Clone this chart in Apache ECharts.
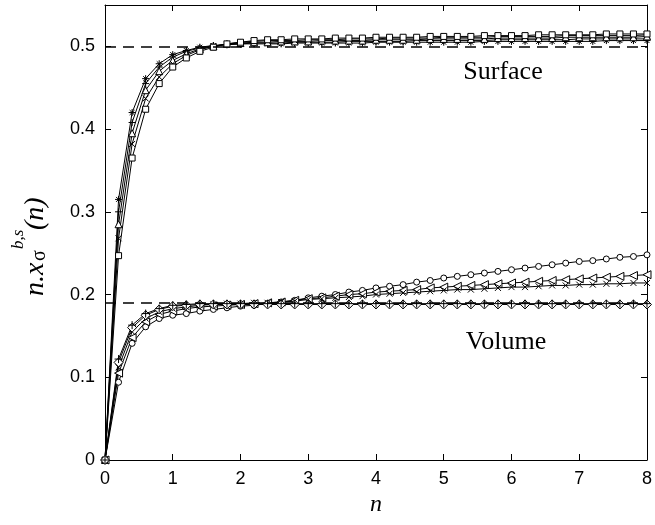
<!DOCTYPE html>
<html>
<head>
<meta charset="utf-8">
<script src="https://cdn.jsdelivr.net/npm/echarts@6/dist/echarts.min.js"></script>
<style>
  html, body { margin: 0; padding: 0; background: #fff; }
  #chart { width: 655px; height: 525px; }
</style>
</head>
<body>
<div id="chart"></div>
<script>
// n values (step 0.2)
let nValues = [0, 0.2, 0.4, 0.6, 0.8, 1.0, 1.2, 1.4, 1.6, 1.8,
               2.0, 2.2, 2.4, 2.6, 2.8, 3.0, 3.2, 3.4, 3.6, 3.8,
               4.0, 4.2, 4.4, 4.6, 4.8, 5.0, 5.2, 5.4, 5.6, 5.8,
               6.0, 6.2, 6.4, 6.6, 6.8, 7.0, 7.2, 7.4, 7.6, 7.8, 8.0];

// surface curves
let surfStar = [0, 0.315, 0.420, 0.461, 0.479, 0.490, 0.495, 0.499, 0.501, 0.502,
                0.503, 0.503, 0.503, 0.503, 0.504, 0.504, 0.504, 0.504, 0.504, 0.504,
                0.505, 0.505, 0.505, 0.505, 0.505, 0.505, 0.505, 0.505, 0.506, 0.506,
                0.506, 0.506, 0.506, 0.506, 0.506, 0.506, 0.506, 0.507, 0.507, 0.507, 0.507];
let surfPlus = [0, 0.300, 0.408, 0.455, 0.475, 0.487, 0.494, 0.498, 0.501, 0.502,
                0.503, 0.504, 0.504, 0.504, 0.505, 0.505, 0.505, 0.505, 0.506, 0.506,
                0.506, 0.506, 0.506, 0.507, 0.507, 0.507, 0.507, 0.507, 0.507, 0.508,
                0.508, 0.508, 0.508, 0.508, 0.508, 0.509, 0.509, 0.509, 0.509, 0.509, 0.509];
let surfTri = [0, 0.285, 0.395, 0.447, 0.470, 0.483, 0.491, 0.497, 0.500, 0.503,
               0.504, 0.505, 0.505, 0.506, 0.506, 0.506, 0.507, 0.507, 0.507, 0.507,
               0.508, 0.508, 0.508, 0.508, 0.509, 0.509, 0.509, 0.509, 0.509, 0.510,
               0.510, 0.510, 0.510, 0.510, 0.511, 0.511, 0.511, 0.511, 0.511, 0.511, 0.512];
let surfCross = [0, 0.268, 0.382, 0.437, 0.463, 0.479, 0.489, 0.496, 0.500, 0.503,
                 0.505, 0.506, 0.507, 0.507, 0.507, 0.508, 0.508, 0.508, 0.509, 0.509,
                 0.509, 0.510, 0.510, 0.510, 0.510, 0.511, 0.511, 0.511, 0.511, 0.512,
                 0.512, 0.512, 0.512, 0.512, 0.513, 0.513, 0.513, 0.513, 0.513, 0.513, 0.514];
let surfSquare = [0, 0.247, 0.365, 0.424, 0.455, 0.475, 0.486, 0.494, 0.499, 0.503,
                  0.505, 0.507, 0.508, 0.508, 0.509, 0.509, 0.509, 0.510, 0.510, 0.510,
                  0.511, 0.511, 0.511, 0.511, 0.512, 0.512, 0.512, 0.512, 0.513, 0.513,
                  0.513, 0.513, 0.514, 0.514, 0.514, 0.514, 0.514, 0.515, 0.515, 0.515, 0.515];

// volume curves
let volCircle = [0, 0.094, 0.141, 0.161, 0.171, 0.175, 0.177, 0.180, 0.182, 0.184,
                 0.186, 0.187, 0.189, 0.191, 0.193, 0.196, 0.198, 0.200, 0.203, 0.205,
                 0.208, 0.210, 0.212, 0.215, 0.217, 0.220, 0.222, 0.224, 0.226, 0.228,
                 0.230, 0.232, 0.234, 0.236, 0.238, 0.240, 0.241, 0.243, 0.245, 0.246, 0.248];
let volTri = [0, 0.105, 0.148, 0.167, 0.176, 0.180, 0.183, 0.185, 0.186, 0.187,
              0.188, 0.189, 0.190, 0.191, 0.193, 0.195, 0.196, 0.198, 0.200, 0.201,
              0.203, 0.204, 0.205, 0.206, 0.208, 0.209, 0.210, 0.211, 0.212, 0.213,
              0.214, 0.215, 0.216, 0.217, 0.218, 0.219, 0.220, 0.221, 0.222, 0.223, 0.224];
let volCross = [0, 0.112, 0.155, 0.171, 0.179, 0.183, 0.185, 0.187, 0.188, 0.189,
                0.189, 0.190, 0.190, 0.191, 0.192, 0.194, 0.195, 0.196, 0.197, 0.198,
                0.200, 0.201, 0.202, 0.203, 0.204, 0.205, 0.206, 0.206, 0.207, 0.208,
                0.209, 0.209, 0.210, 0.211, 0.211, 0.212, 0.212, 0.213, 0.213, 0.214, 0.214];
let volDiamond = [0, 0.118, 0.160, 0.175, 0.182, 0.186, 0.187, 0.188, 0.188, 0.188,
                  0.188, 0.188, 0.188, 0.188, 0.188, 0.188, 0.188, 0.188, 0.188, 0.188,
                  0.188, 0.188, 0.188, 0.188, 0.188, 0.188, 0.188, 0.188, 0.188, 0.188,
                  0.188, 0.188, 0.188, 0.188, 0.188, 0.188, 0.188, 0.188, 0.188, 0.188, 0.188];
let volPlus = [0, 0.122, 0.163, 0.177, 0.183, 0.187, 0.188, 0.189, 0.189, 0.189,
               0.189, 0.189, 0.189, 0.189, 0.189, 0.189, 0.189, 0.189, 0.189, 0.189,
               0.189, 0.189, 0.189, 0.189, 0.189, 0.189, 0.189, 0.189, 0.189, 0.189,
               0.189, 0.189, 0.189, 0.189, 0.189, 0.189, 0.189, 0.189, 0.189, 0.189, 0.189];

// reference levels (dashed)
let refLevels = [0.5, 0.19];

let symStar = 'path://M5,0L5,10M0,5L10,5M1.5,1.5L8.5,8.5M8.5,1.5L1.5,8.5';
let symPlus = 'path://M5,0L5,10M0,5L10,5';
let symCross = 'path://M0,0L10,10M10,0L0,10';
let symTriLeft = 'path://M0,5L10,0L10,10Z';

function makeSeries(name, values, symbol, size) {
    return {
        name: name,
        type: 'line',
        data: nValues.map(function (n, i) { return [n, values[i]]; }),
        symbol: symbol,
        symbolSize: size,
        showSymbol: true,
        clip: false,
        lineStyle: { color: '#000', width: 1 },
        itemStyle: { color: '#fff', borderColor: '#000', borderWidth: 1 },
        emphasis: { disabled: true },
        z: 3
    };
}

let series = [
    makeSeries('surfStar', surfStar, symStar, 7),
    makeSeries('surfPlus', surfPlus, symPlus, 7),
    makeSeries('surfTri', surfTri, 'triangle', 7),
    makeSeries('surfCross', surfCross, symCross, 6),
    makeSeries('surfSquare', surfSquare, 'rect', 6),
    makeSeries('volCircle', volCircle, 'circle', 6),
    makeSeries('volTri', volTri, symTriLeft, 8),
    makeSeries('volCross', volCross, symCross, 6),
    makeSeries('volDiamond', volDiamond, 'diamond', 9),
    makeSeries('volPlus', volPlus, symPlus, 8)
];

series[0].markLine = {
    silent: true,
    symbol: ['none', 'none'],
    label: { show: false },
    lineStyle: { color: '#000', width: 1.5, type: [11, 7] },
    data: refLevels.map(function (v) { return { yAxis: v }; })
};

let labelFont = { color: '#000', fontSize: 18, fontFamily: 'Liberation Sans, Arial, sans-serif' };
let serif = '"Liberation Serif", "Times New Roman", serif';

let option = {
    animation: false,
    backgroundColor: '#fff',
    grid: { left: 105, right: 4, top: 5, bottom: 65 },
    xAxis: [
        {
            type: 'value', min: 0, max: 8, interval: 1,
            axisLine: { show: true, onZero: false, lineStyle: { color: '#000', width: 1 } },
            axisTick: { inside: true, length: 6, lineStyle: { color: '#000' } },
            splitLine: { show: false },
            axisLabel: Object.assign({ margin: 10 }, labelFont),
            name: 'n',
            nameLocation: 'middle',
            nameGap: 33,
            nameTextStyle: { fontFamily: serif, fontStyle: 'italic', fontSize: 24, color: '#000' }
        },
        {
            type: 'value', min: 0, max: 8, interval: 1, position: 'top',
            axisLine: { show: true, onZero: false, lineStyle: { color: '#000', width: 1 } },
            axisTick: { inside: true, length: 6, lineStyle: { color: '#000' } },
            splitLine: { show: false },
            axisLabel: { show: false }
        }
    ],
    yAxis: [
        {
            type: 'value', min: 0, max: 0.55, interval: 0.1,
            axisLine: { show: true, onZero: false, lineStyle: { color: '#000', width: 1 } },
            axisTick: { inside: true, length: 6, lineStyle: { color: '#000' } },
            splitLine: { show: false },
            axisLabel: Object.assign({ margin: 10, showMaxLabel: false }, labelFont)
        },
        {
            type: 'value', min: 0, max: 0.55, interval: 0.1, position: 'right',
            axisLine: { show: true, onZero: false, lineStyle: { color: '#000', width: 1 } },
            axisTick: { inside: true, length: 6, lineStyle: { color: '#000' } },
            splitLine: { show: false },
            axisLabel: { show: false }
        }
    ],
    graphic: [
        {
            type: 'text', x: 503, y: 72,
            style: { text: 'Surface', font: '26px ' + serif, fill: '#000', textAlign: 'center', textVerticalAlign: 'middle' }
        },
        {
            type: 'text', x: 506, y: 342,
            style: { text: 'Volume', font: '26px ' + serif, fill: '#000', textAlign: 'center', textVerticalAlign: 'middle' }
        },
        {
            type: 'group', x: 36, y: 296, rotation: Math.PI / 2,
            children: [
                { type: 'text', x: 0, y: 0, style: { text: 'n.x', font: 'italic 28px ' + serif, fill: '#000', textVerticalAlign: 'middle' } },
                { type: 'text', x: 35, y: 4, style: { text: 'σ', font: '20px ' + serif, fill: '#000', textVerticalAlign: 'middle' } },
                { type: 'text', x: 47, y: -17, style: { text: 'b,s', font: 'italic 17px ' + serif, fill: '#000', textVerticalAlign: 'middle' } },
                { type: 'text', x: 66, y: 0, style: { text: '(n)', font: 'italic 28px ' + serif, fill: '#000', textVerticalAlign: 'middle' } }
            ]
        }
    ],
    series: series
};

let chart = echarts.init(document.getElementById('chart'));
chart.setOption(option);
</script>
</body>
</html>
